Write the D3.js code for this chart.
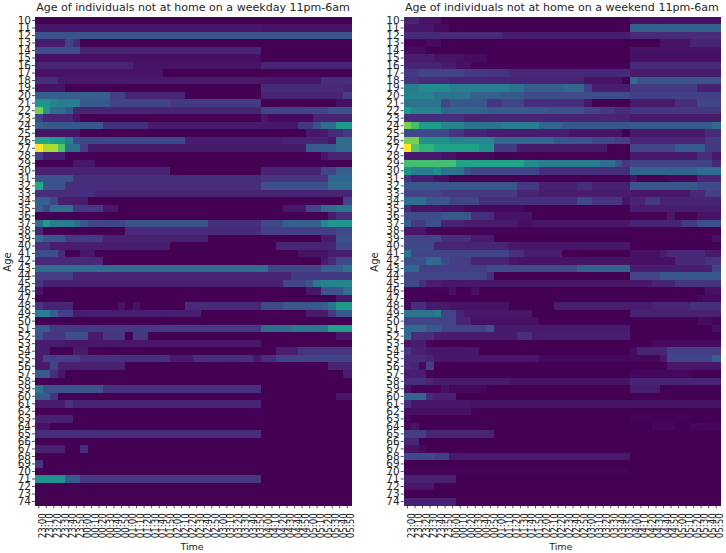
<!DOCTYPE html>
<html><head><meta charset="utf-8">
<script src="https://cdn.jsdelivr.net/npm/d3@7"></script>
<style>html,body{margin:0;padding:0;background:#fff}svg{display:block}
text{font-family:"DejaVu Sans";fill:#262626}</style></head><body>
<svg id="c" width="726" height="553"></svg>
<script>
const ages = d3.range(10, 75);
const times = ["23:00","23:10","23:20","23:30","23:40","23:50","00:00","00:10","00:20","00:30","00:40","00:50","01:00","01:10","01:20","01:30","01:40","01:50","02:00","02:10","02:20","02:30","02:40","02:50","03:00","03:10","03:20","03:30","03:40","03:50","04:00","04:10","04:20","04:30","04:40","04:50","05:00","05:10","05:20","05:30","05:40","05:50"];
const titles = ["Age of individuals not at home on a weekday 11pm-6am","Age of individuals not at home on a weekend 11pm-6am"];
// Each row: "count:value" runs across the 42 time slots (value = share of colour range).
const weekdayRuns = [
"42:0","30:.06 12:.05","42:.25","4:.08 1:.2 1:.12 36:0","6:.24 24:.1 12:0","30:.04 12:0","13:.1 17:.05 12:.1","17:.05 25:0",
"3:.14 27:.07 8:.06 4:.13","4:.05 26:0 11:.12 1:.1","10:.3 2:.18 8:.1 10:0 11:.1 1:.18","2:.52 1:.45 3:.42 4:.28 8:.2 12:.17 10:0 2:.04",
"1:.8 1:.52 2:.35 1:.28 25:.1 9:.2 3:.25","1:.2 4:.1 1:.05 24:0 1:.06 6:.03 5:.1","1:.3 8:.27 6:.14 15:.07 5:.06 2:.16 1:.25 2:.35 2:.55",
"6:.05 30:0 3:.06 2:.12 1:.17","2:.6 2:.55 1:.42 15:.22 13:.08 6:.1 1:.06 2:.35","1:1 2:.87 1:.72 2:.38 1:.18 29:.07 4:.28 2:.35",
"1:.18 3:.08 34:0 1:.06 3:.1","5:0 3:.06 34:0","18:.09 12:0 8:.1 2:.2 2:.3","5:.25 25:.13 9:.15 3:.33","1:.6 3:.25 26:.13 9:.24 3:.35",
"8:.13 34:.1","2:.3 1:.2 4:.08 34:0 1:.2","1:.3 1:.2 3:.36 4:.16 2:.06 22:0 3:.06 2:.2 2:.35 2:.4","39:0 1:.07 2:.14",
"1:.35 1:.55 3:.42 1:.36 1:.28 5:.2 11:.25 7:.14 3:.22 5:.3 1:.45 3:.53","1:.1 11:0 18:.12 10:.18 2:.22","1:.35 3:.26 5:.17 14:.09 15:0 2:.07 2:.24",
"2:.14 16:.08 14:0 8:.1 2:.22","3:.24 1:.12 2:0 2:.06 27:0 4:.05 3:.08","9:.11 29:0 1:.07 1:.12 2:.22","31:.35 7:.2 3:.3 1:.38","5:.18 29:.1 8:.17",
"1:.15 32:.09 3:.2 1:.25 1:.38 4:.45","1:.05 35:0 2:.06 3:.25 1:.36","40:0 2:.06","1:.15 4:.1 6:0 1:.05 1:0 1:.05 6:0 10:.12 3:.22 5:.27 1:.3 1:.38 2:.55",
"2:.42 1:.3 2:.18 17:.08 14:0 3:.07 1:.17 2:.28","42:0","2:.28 28:.17 4:.35 5:.4 3:.57","1:.25 3:.16 3:.24 2:.07 3:.16 1:0 2:.17 25:0 2:.06",
"4:.08 26:.06 12:0","2:.08 3:0 2:.07 25:0 3:.08 7:.15","1:.08 1:.2 4:.18 12:.14 3:.07 8:.13 1:.06 2:.13 10:.2","2:.07 1:.2 9:.09 27:0 3:.1",
"2:.28 1:.14 1:.06 37:0 1:.08","42:0","1:.38 8:.25 21:.14 12:0","2:.28 1:.15 37:0 2:.06","4:.08 1:.15 25:.1 12:0","42:0","5:.09 37:0","2:.05 40:0",
"30:.13 12:0","42:0","4:.09 2:0 1:.13 35:0","42:0","1:.15 41:0","42:0","4:.5 2:.28 24:.16 12:0","42:0","42:0","42:0"];
const weekendRuns = [
"2:.1 3:.05 25:0 12:.04","4:.06 2:.03 24:0 12:.3","13:.12 17:.08 12:.12","3:.01 2:.03 29:0 4:.05 4:.1","3:.03 27:0 12:.05","4:.08 4:.05 3:.03 19:0 12:.04",
"5:.1 2:.07 2:.04 21:.01 12:.12","2:.17 6:.2 3:.17 3:.15 16:.11 12:.07","2:.15 4:.12 18:.1 5:.05 1:0 1:.35 11:.25",
"2:.42 4:.48 8:.42 2:.38 5:.3 3:.33 1:.18 5:.08 9:.17 3:.09","4:.44 5:.38 4:.3 3:.28 14:.23 12:.19","5:.38 1:.2 5:.27 2:.15 3:.2 8:.13 1:.06 5:0 6:.07 3:.13 3:.2",
"1:.55 4:.45 6:.33 8:.28 5:.25 2:.2 2:.16 2:.12 12:.16","8:.13 22:.1 12:.07","1:.8 1:.7 3:.55 3:.45 5:.38 5:.42 3:.33 9:.27 11:.28 1:.35",
"6:.22 2:.15 3:.1 11:.08 7:.05 1:0 10:.07 2:.12","2:.8 4:.5 6:.45 8:.33 5:.26 3:.22 2:.18 10:.1 2:.17","1:1 1:.73 2:.65 6:.58 2:.5 3:.17 12:.07 3:0 6:.2 4:.28 2:.17",
"5:.07 2:.05 5:.02 18:0 9:.07 2:.13 1:.07","7:.7 9:.58 2:.48 8:.42 2:.35 1:.25 1:.16 11:.2 1:.11","1:.5 3:.42 1:.5 3:.38 1:.25 9:.2 12:.13 9:.32 3:.35",
"1:.15 3:.08 2:.04 24:0 1:.05 4:0 4:.02 3:.1","15:.27 3:.16 5:.09 2:.13 5:.09 9:.27 3:.22","5:.2 10:.17 3:.1 12:.08 8:.06 2:.11 2:.18",
"3:.36 3:.27 4:.2 13:.14 2:.22 4:.15 1:.05 2:.1 2:.16 8:.1","1:.12 4:.05 3:.04 8:.02 14:0 12:.08","5:.23 4:.27 3:.13 5:.05 13:0 5:.01 1:.06 3:.01 3:.05",
"1:.3 2:.17 2:.24 3:.1 7:.07 2:.04 13:.06 7:.1 2:.17 3:.24","3:.06 27:.01 12:0","5:.2 4:.13 3:.07 18:0 11:0 1:.04","4:.22 10:.1 16:.06 12:0",
"1:.38 13:.2 2:.14 5:.08 9:0 4:.04 1:.08 5:.11 2:.07","3:.24 2:.34 1:.22 3:.18 5:.1 1:.06 15:.05 6:.04 4:.11 2:.15","2:.33 9:.18 12:.23 7:.31 11:.08 1:.2",
"11:.2 1:.13 18:0 4:.2 8:.27","2:.22 1:.14 2:.08 28:.06 3:.1 6:.15","6:.01 1:.04 2:0 1:.04 30:0 2:.04","3:.01 36:0 3:.03","1:.02 2:.13 3:.07 8:.05 6:0 13:.08 5:.1 4:.14",
"4:.38 1:.42 2:.2 1:.1 9:.06 13:0 12:.09","7:.2 2:.1 9:.04 12:0 9:0 2:.03 1:.01","3:.34 2:.27 6:.2 1:.25 18:.07 11:0 1:.04","1:.34 3:.13 2:.08 9:.07 2:.13 13:.08 12:0",
"1:.06 2:.08 1:.02 29:0 9:.03","1:.16 2:.09 7:.06 20:0 1:.03 4:.1 7:.18","3:.12 1:.1 14:.06 16:.02 1:.06 6:.2 1:.3","1:.12 1:.1 1:.03 1:.18 31:0 7:.06",
"3:.08 1:.01 26:0 8:.02 4:0","3:.13 1:.1 10:.07 16:.05 12:.1","1:.05 4:.01 1:.05 5:.02 19:0 4:.08 8:0","3:.33 1:.12 3:.09 35:0","1:.13 8:.06 33:.05","9:.04 33:0",
"1:.02 29:0 8:.01 4:0","1:.02 1:.05 31:0 3:.02 2:0 4:.02","3:.18 9:.1 30:0","2:.1 40:0","2:.05 1:.03 39:0","4:.22 2:.18 24:.07 12:0","42:0","30:.01 12:0",
"7:.09 35:0","4:.06 38:0","42:0","7:.09 35:0"];

const color = d3.scaleSequential(d3.interpolateViridis).domain([0, 1]);
const decode = s => s.split(" ").flatMap(r => { const [n, v] = r.split(":"); return d3.range(+n).map(() => +v); });

const svg = d3.select("#c");
const panels = [{x0: 35, x1: 351, runs: weekdayRuns, title: titles[0], ylab: 10.5},
                {x0: 403.7, x1: 720, runs: weekendRuns, title: titles[1], ylab: 378}];
const y0 = 16.7, y1 = 505.3;
panels.forEach(p => {
  const x = d3.scaleBand().domain(times).range([p.x0, p.x1]);
  const y = d3.scaleBand().domain(ages).range([y0, y1]);
  const g = svg.append("g");
  p.runs.forEach((row, i) => {
    const vals = decode(row);
    if (vals.length !== 42) console.error("row", ages[i], vals.length);
    g.selectAll(null).data(vals).join("rect")
      .attr("x", (d, j) => x(times[j])).attr("y", y(ages[i]))
      .attr("width", x.bandwidth() + .5).attr("height", y.bandwidth() + .5)
      .attr("shape-rendering", "crispEdges")
      .attr("fill", d => color(d));
  });
  const ay = svg.append("g").attr("transform", `translate(${p.x0},0)`)
    .call(d3.axisLeft(y).tickSize(3).tickPadding(1));
  ay.select(".domain").remove();
  ay.selectAll("text").attr("font-size", 10.5).attr("fill", "#262626").attr("font-family", "DejaVu Sans");
  ay.selectAll("line").attr("stroke", "#262626").attr("stroke-width", .8);
  const ax = svg.append("g").attr("transform", `translate(0,${y1})`)
    .call(d3.axisBottom(x).tickSize(3).tickPadding(3));
  ax.select(".domain").remove();
  ax.selectAll("line").attr("stroke", "#262626").attr("stroke-width", .8);
  ax.selectAll("text").attr("font-size", 10).attr("fill", "#262626").attr("font-family", "DejaVu Sans")
    .attr("text-anchor", "end").attr("dx", 0).attr("dy", 0)
    .attr("transform", "rotate(-90) translate(-8,7.2) scale(.87,1)").attr("x", 0).attr("y", 0);
  svg.append("text").attr("x", (p.x0 + p.x1) / 2).attr("y", 10.5).attr("text-anchor", "middle").attr("font-size", 11.05).text(p.title);
  svg.append("text").attr("x", (p.x0 + p.x1) / 2 - 1).attr("y", 549.5).attr("text-anchor", "middle").attr("font-size", 9.5).text("Time");
  svg.append("text").attr("transform", `translate(${p.ylab},262) rotate(-90)`).attr("text-anchor", "middle").attr("font-size", 10).text("Age");
});
</script></body></html>
